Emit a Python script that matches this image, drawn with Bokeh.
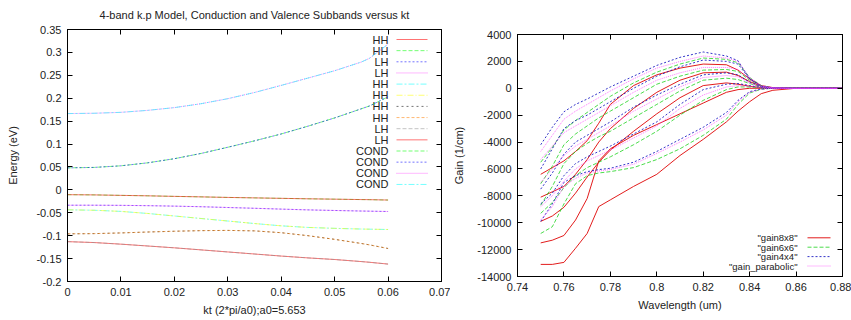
from bokeh.plotting import figure
from bokeh.models import Range1d, FixedTicker, LinearAxis, CustomJSTickFormatter
from bokeh.layouts import row, column
from bokeh.embed import file_html
from bokeh.resources import INLINE
from bokeh.core.properties import value

# ---------------- left panel data ----------------
kt = [0, 0.005, 0.01, 0.015, 0.02, 0.025, 0.03, 0.035, 0.04, 0.045, 0.05, 0.055, 0.0565, 0.06]
cond_hi = [0.1665, 0.1672, 0.1692, 0.1735, 0.1795, 0.1880, 0.1990, 0.2125, 0.2280, 0.2440, 0.2600, 0.2790, 0.2870, 0.3180]
cond_lo = [0.0480, 0.0490, 0.0525, 0.0590, 0.0680, 0.0795, 0.0930, 0.1070, 0.1220, 0.1390, 0.1570, 0.1770, 0.1830, 0.2030]
val_a = [-0.0105, -0.0110, -0.0120, -0.0130, -0.0142, -0.0153, -0.0165, -0.0175, -0.0185, -0.0195, -0.0203, -0.0212, -0.0214, -0.0222]
val_b = [-0.0335, -0.0335, -0.0338, -0.0345, -0.0355, -0.0368, -0.0385, -0.0402, -0.0420, -0.0437, -0.0450, -0.0462, -0.0465, -0.0472]
val_c = [-0.0435, -0.0445, -0.0470, -0.0515, -0.0570, -0.0625, -0.0680, -0.0735, -0.0785, -0.0820, -0.0840, -0.0855, -0.0858, -0.0865]
val_d = [-0.0960, -0.0955, -0.0940, -0.0920, -0.0903, -0.0890, -0.0885, -0.0895, -0.0935, -0.1000, -0.1080, -0.1170, -0.1200, -0.1280]
val_e = [-0.1130, -0.1150, -0.1185, -0.1225, -0.1265, -0.1310, -0.1355, -0.1400, -0.1445, -0.1485, -0.1520, -0.1565, -0.1580, -0.1620]

left_labels = ["HH", "HH", "LH", "LH", "HH", "HH", "HH", "HH", "LH", "LH", "COND", "COND", "COND", "COND"]
left_series = [val_e, val_a, val_b, val_b, val_c, val_c, val_d, val_d, val_e, val_a, cond_lo, cond_lo, cond_hi, cond_hi]
left_xticks = [0, 0.01, 0.02, 0.03, 0.04, 0.05, 0.06, 0.07]
left_yticks = [-0.2, -0.15, -0.1, -0.05, 0, 0.05, 0.1, 0.15, 0.2, 0.25, 0.3, 0.35]

# ---------------- right panel data ----------------
wl = [0.75, 0.755, 0.76, 0.765, 0.77, 0.775, 0.78, 0.79, 0.80, 0.81, 0.82, 0.83, 0.835, 0.84, 0.845, 0.85, 0.86, 0.88]

g8_1 = [-6400, -5900, -5400, -4700, -3900, -2600, -1200, 200, 1000, 1500, 1800, 1750, 1350, 700, 200, 50, 0, 0]
g8_2 = [-8100, -7700, -7300, -6400, -5300, -4000, -3000, -1500, -300, 600, 1150, 1200, 950, 500, 150, 30, 0, 0]
g8_3 = [-9900, -9500, -8850, -7800, -6600, -5500, -4600, -3200, -1900, -700, 200, 400, 300, 150, 50, 10, 0, 0]
g8_4 = [-11500, -11300, -10950, -9800, -8200, -5400, -4500, -3500, -2700, -1900, -1100, -300, -100, 0, 0, 0, 0, 0]
g8_5 = [-13100, -13100, -12950, -11900, -10800, -8800, -8300, -7300, -6400, -5000, -3800, -2500, -1700, -1000, -400, -150, 0, 0]

g6_1 = [-5500, -4400, -3100, -2400, -1800, -1200, -600, 400, 1200, 1800, 2250, 2150, 1900, 800, 200, 40, 0, 0]
g6_2 = [-7100, -5800, -4200, -3400, -2800, -2200, -1700, -700, 300, 900, 1350, 1400, 1250, 600, 150, 30, 0, 0]
g6_3 = [-8700, -7300, -5600, -4700, -4100, -3600, -3200, -2200, -1200, -200, 600, 750, 650, 350, 100, 20, 0, 0]
g6_4 = [-9300, -8500, -7400, -6500, -5900, -5500, -5100, -4200, -3200, -2000, -900, -100, 100, 100, 30, 10, 0, 0]
g6_5 = [-10800, -10300, -8600, -7100, -6500, -6300, -6200, -5900, -5300, -4500, -3500, -2300, -1200, -350, -70, 0, 0, 0]

g4_1 = [-4200, -2900, -1750, -1200, -800, -350, 100, 900, 1700, 2300, 2700, 2400, 2050, 700, 150, 30, 0, 0]
g4_2 = [-6000, -4500, -3000, -2400, -2000, -1500, -1000, 0, 900, 1600, 2100, 2000, 1800, 700, 150, 30, 0, 0]
g4_3 = [-7500, -6300, -4900, -4000, -3500, -3000, -2500, -1400, -500, 300, 1000, 1150, 1000, 450, 100, 20, 0, 0]
g4_4 = [-8600, -7800, -6500, -5600, -5100, -4700, -4300, -3400, -2500, -1200, -100, 300, 350, 200, 50, 10, 0, 0]
g4_5 = [-9900, -8600, -7000, -6500, -6200, -6050, -5950, -5500, -4700, -3800, -2900, -1800, -900, -250, -50, 0, 0, 0]

gp_1 = [-4700, -3500, -2300, -1700, -1200, -700, -200, 700, 1500, 2000, 2400, 2250, 2000, 800, 200, 40, 0, 0]
gp_2 = [-5300, -4300, -3300, -2800, -2300, -1800, -1300, -300, 600, 1150, 1550, 1550, 1400, 650, 150, 30, 0, 0]
gp_3 = [-7000, -6000, -5000, -4300, -3800, -3300, -2800, -1700, -800, 100, 800, 950, 850, 400, 100, 20, 0, 0]
gp_4 = [-8800, -8000, -6900, -6000, -5400, -5000, -4600, -3700, -2800, -1500, -500, 100, 200, 150, 40, 10, 0, 0]
gp_5 = [-9800, -8800, -7300, -6700, -6300, -6150, -6050, -5650, -4850, -4000, -3100, -2000, -1000, -300, -60, 0, 0, 0]

right_labels = ['"gain8x8"', '"gain6x6"', '"gain4x4"', '"gain_parabolic"']
right_series = [[g8_1, g8_2, g8_3, g8_4, g8_5],
                [g6_1, g6_2, g6_3, g6_4, g6_5],
                [g4_1, g4_2, g4_3, g4_4, g4_5],
                [gp_1, gp_2, gp_3, gp_4, gp_5]]
right_xticks = [0.74, 0.76, 0.78, 0.8, 0.82, 0.84, 0.86, 0.88]
right_yticks = [-14000, -12000, -10000, -8000, -6000, -4000, -2000, 0, 2000, 4000]

# ---------------- styles ----------------
FONT = "Liberation Sans"
left_styles = [("#ff0000", "solid"), ("#00ff00", "4 2"), ("#0000ff", "2 2"), ("#ff00ff", "1 1"),
               ("#00ffff", "6 2 2 2"), ("#ffff00", "6 2 1 2"), ("#000000", "2 3"), ("#ff8000", "3 2"),
               ("#909090", "4 2"), ("#ff0000", "solid"), ("#00ff00", "4 2"), ("#0000ff", "2 2"),
               ("#ff00ff", "1 1"), ("#00ffff", "6 2 2 2")]
right_styles = [("#e01010", "solid", 0.95), ("#10d010", "4 2", 0.75), ("#1010c0", "2 2", 0.85), ("#ff40ff", "1 1", 0.7)]

fmt = CustomJSTickFormatter(code="return tick.toString();")
blank = CustomJSTickFormatter(code="return '';")


def style_axes(p, xticks, yticks):
    p.xaxis.ticker = FixedTicker(ticks=xticks)
    p.yaxis.ticker = FixedTicker(ticks=yticks)
    for ax in p.xaxis + p.yaxis:
        ax.formatter = fmt
        ax.major_tick_in = 5
        ax.major_tick_out = 0
        ax.minor_tick_line_color = None
        ax.axis_line_color = "black"
        ax.major_tick_line_color = "black"
        ax.major_label_text_font = FONT
        ax.major_label_text_font_size = "11px"
        ax.major_label_text_color = "#222222"
        ax.axis_label_text_font = FONT
        ax.axis_label_text_font_size = "11px"
        ax.axis_label_text_font_style = "normal"
        ax.axis_label_text_color = "#222222"
        ax.major_label_standoff = 6
    for side, tk in (("right", yticks), ("above", xticks)):
        ax = LinearAxis(ticker=FixedTicker(ticks=tk), formatter=blank,
                        major_tick_in=5, major_tick_out=0, minor_tick_line_color=None,
                        major_label_standoff=0, axis_line_color="black")
        p.add_layout(ax, side)
    p.xgrid.visible = False
    p.ygrid.visible = False
    p.outline_line_color = "black"


# ---------------- left figure ----------------
p1 = figure(width=450, height=320, x_range=Range1d(0, 0.07), y_range=Range1d(-0.2, 0.35),
            output_backend="svg", toolbar_location=None,
            min_border_left=67, min_border_right=9, min_border_top=29, min_border_bottom=39)
p1.title.text = "4-band k.p Model, Conduction and Valence Subbands versus kt"
p1.title.align = "center"
p1.title.vertical_align = "top"
p1.title.text_font = FONT
p1.title.text_font_size = "11px"
p1.title.text_font_style = "normal"
p1.title.text_color = "#222222"
p1.title.standoff = 14
p1.xaxis.axis_label = "kt (2*pi/a0);a0=5.653"
p1.yaxis.axis_label = "Energy (eV)"
style_axes(p1, left_xticks, left_yticks)
p1.yaxis[0].axis_label_standoff = 14
p1.xaxis[0].axis_label_standoff = 7

# legend geometry (pixel -> data)
fx0, fx1, fy0, fy1 = 67.0, 441.0, 29.0, 281.0
def lx(px):
    return (px - fx0) / (fx1 - fx0) * 0.07
def ly(py):
    return 0.35 - (py - fy0) / (fy1 - fy0) * 0.55

for i, (lab, ys) in enumerate(zip(left_labels, left_series)):
    col, dash = left_styles[i]
    p1.line(kt, ys, line_color=col, line_dash=dash, line_width=1, line_alpha=0.55)
    yy = ly(39 + i * 11.15)
    p1.line([lx(396), lx(427)], [yy, yy], line_color=col, line_dash=dash, line_width=1, line_alpha=0.55)
    p1.text(x=[lx(388)], y=[yy], text=[lab], text_align="right", text_baseline="middle",
            text_font=value(FONT), text_font_size="11px", text_color="#222222")

# ---------------- right figure ----------------
p2 = figure(width=401, height=320, x_range=Range1d(0.74, 0.88), y_range=Range1d(-14000, 4000),
            output_backend="svg", toolbar_location=None,
            min_border_left=67, min_border_right=9, min_border_top=34, min_border_bottom=44)
p2.xaxis.axis_label = "Wavelength (um)"
p2.yaxis.axis_label = "Gain (1/cm)"
style_axes(p2, right_xticks, right_yticks)
p2.yaxis[0].axis_label_standoff = 9
p2.xaxis[0].axis_label_standoff = 4

gx0, gx1, gy0, gy1 = 517.0, 842.0, 34.0, 276.0
def rx(px):
    return 0.74 + (px - gx0) / (gx1 - gx0) * 0.14
def ry(py):
    return 4000 - (py - gy0) / (gy1 - gy0) * 18000

for i, (lab, curves) in enumerate(zip(right_labels, right_series)):
    col, dash, alpha = right_styles[i]
    for ys in curves:
        p2.line(wl, ys, line_color=col, line_dash=dash, line_width=1, line_alpha=alpha)
    yy = ry(237.3 + i * 9.4)
    p2.line([rx(807), rx(830)], [yy, yy], line_color=col, line_dash=dash, line_width=1, line_alpha=alpha)
    p2.text(x=[rx(797)], y=[yy], text=[lab], text_align="right", text_baseline="middle",
            text_font=value(FONT), text_font_size="9.5px", text_color="#222222")

layout = row(column(p1), column(p2), spacing=0)
open("out.html", "w").write(file_html(layout, INLINE))
